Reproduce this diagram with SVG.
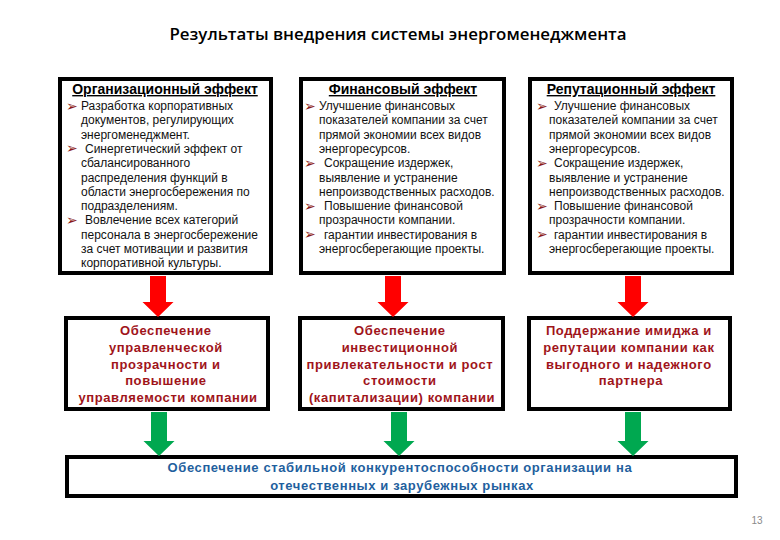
<svg xmlns="http://www.w3.org/2000/svg" width="780" height="540" viewBox="0 0 780 540">
  <style>
    .box { fill: #ffffff; stroke: #000000; stroke-width: 4; }
    .title { font-family: "Open Sans", "Liberation Sans", sans-serif; font-weight: 600; font-size: 16px; fill: #000; }
    .head { font-family: "Liberation Sans", Arial, sans-serif; font-weight: bold; font-size: 14px; fill: #000; text-decoration: underline; }
    .body { font-family: "Liberation Sans", Arial, sans-serif; font-size: 12px; fill: #111; }
    .bul { font-family: "DejaVu Sans", sans-serif; font-size: 14px; fill: #8b1a1a; }
    .mid { font-family: "Liberation Sans", Arial, sans-serif; font-weight: bold; font-size: 13px; letter-spacing: 0.6px; fill: #a0141a; }
    .bot { font-family: "Liberation Sans", Arial, sans-serif; font-weight: bold; font-size: 13px; letter-spacing: 0.6px; fill: #1f5f9e; }
    .red { fill: #ff0000; }
    .green { fill: #00a850; }
    .pg { font-family: "Liberation Sans", Arial, sans-serif; font-size: 10px; fill: #8a8a8a; }
  </style>
  <rect x="0" y="0" width="780" height="540" fill="#ffffff"/>
  <text class="title" x="398" y="40" text-anchor="middle" textLength="457" lengthAdjust="spacingAndGlyphs">Результаты внедрения системы энергоменеджмента</text>

  <g id="org-effect">
    <rect class="box" x="60" y="79" width="211" height="194"/>
    <text class="head" x="165" y="94" text-anchor="middle">Организационный эффект</text>
    <text class="bul" x="66" y="110.5">➢</text>
    <text class="body" x="81" y="110">Разработка корпоративных</text>
    <text class="body" x="81" y="124.3">документов, регулирующих</text>
    <text class="body" x="81" y="138.6">энергоменеджмент.</text>
    <text class="bul" x="66" y="153.4">➢</text>
    <text class="body" x="85" y="152.9">Синергетический эффект от</text>
    <text class="body" x="81" y="167.2">сбалансированного</text>
    <text class="body" x="81" y="181.5">распределения функций в</text>
    <text class="body" x="81" y="195.8">области энергосбережения по</text>
    <text class="body" x="81" y="210.1">подразделениям.</text>
    <text class="bul" x="66" y="224.9">➢</text>
    <text class="body" x="85" y="224.4">Вовлечение всех категорий</text>
    <text class="body" x="81" y="238.7">персонала в энергосбережение</text>
    <text class="body" x="81" y="253">за счет мотивации и развития</text>
    <text class="body" x="81" y="267.3">корпоративной культуры.</text>
  </g>

  <g id="fin-effect">
    <rect class="box" x="301" y="79" width="203" height="194"/>
    <text class="head" x="403" y="94" text-anchor="middle">Финансовый эффект</text>
    <text class="bul" x="304" y="110.5">➢</text>
    <text class="body" x="319" y="110">Улучшение финансовых</text>
    <text class="body" x="319" y="124.3">показателей компании за счет</text>
    <text class="body" x="319" y="138.6">прямой экономии всех видов</text>
    <text class="body" x="319" y="152.9">энергоресурсов.</text>
    <text class="bul" x="304" y="167.7">➢</text>
    <text class="body" x="324" y="167.2">Сокращение издержек,</text>
    <text class="body" x="319" y="181.5">выявление и устранение</text>
    <text class="body" x="319" y="195.8">непроизводственных расходов.</text>
    <text class="bul" x="304" y="210.6">➢</text>
    <text class="body" x="324" y="210.1">Повышение финансовой</text>
    <text class="body" x="319" y="224.4">прозрачности компании.</text>
    <text class="bul" x="304" y="239.2">➢</text>
    <text class="body" x="324" y="238.7">гарантии инвестирования в</text>
    <text class="body" x="319" y="253">энергосберегающие проекты.</text>
  </g>

  <g id="rep-effect">
    <rect class="box" x="530" y="79" width="202" height="194"/>
    <text class="head" x="631" y="94" text-anchor="middle">Репутационный эффект</text>
    <text class="bul" x="536" y="110.5">➢</text>
    <text class="body" x="554" y="110">Улучшение финансовых</text>
    <text class="body" x="549" y="124.3">показателей компании за счет</text>
    <text class="body" x="549" y="138.6">прямой экономии всех видов</text>
    <text class="body" x="549" y="152.9">энергоресурсов.</text>
    <text class="bul" x="536" y="167.7">➢</text>
    <text class="body" x="554" y="167.2">Сокращение издержек,</text>
    <text class="body" x="549" y="181.5">выявление и устранение</text>
    <text class="body" x="549" y="195.8">непроизводственных расходов.</text>
    <text class="bul" x="536" y="210.6">➢</text>
    <text class="body" x="554" y="210.1">Повышение финансовой</text>
    <text class="body" x="549" y="224.4">прозрачности компании.</text>
    <text class="bul" x="536" y="239.2">➢</text>
    <text class="body" x="554" y="238.7">гарантии инвестирования в</text>
    <text class="body" x="549" y="253">энергосберегающие проекты.</text>
  </g>

  <g id="mgmt-transparency">
    <rect class="box" x="66" y="318" width="202" height="91"/>
    <text class="mid" x="168" text-anchor="middle">
      <tspan x="168" y="335">Обеспечение</tspan>
      <tspan x="168" y="351.8">управленческой</tspan>
      <tspan x="168" y="368.6">прозрачности и</tspan>
      <tspan x="168" y="385.4">повышение</tspan>
      <tspan x="168" y="402.2">управляемости компании</tspan>
    </text>
  </g>

  <g id="invest-attract">
    <rect class="box" x="300" y="318" width="203" height="91"/>
    <text class="mid" x="402" text-anchor="middle">
      <tspan x="402" y="335">Обеспечение</tspan>
      <tspan x="402" y="351.8">инвестиционной</tspan>
      <tspan x="402" y="368.6">привлекательности и рост</tspan>
      <tspan x="402" y="385.4">стоимости</tspan>
      <tspan x="402" y="402.2">(капитализации) компании</tspan>
    </text>
  </g>

  <g id="image-support">
    <rect class="box" x="529" y="318" width="201" height="91"/>
    <text class="mid" x="631" text-anchor="middle">
      <tspan x="631" y="335">Поддержание имиджа и</tspan>
      <tspan x="631" y="351.8">репутации компании как</tspan>
      <tspan x="631" y="368.6">выгодного и надежного</tspan>
      <tspan x="631" y="385.4">партнера</tspan>
    </text>
  </g>

  <g id="competitiveness">
    <rect class="box" x="67" y="457" width="669" height="39"/>
    <text class="bot" x="402" text-anchor="middle">
      <tspan x="402" y="472">Обеспечение стабильной конкурентоспособности организации на</tspan>
      <tspan x="402" y="489.5">отечественных и зарубежных рынках</tspan>
    </text>
  </g>

  <g id="connectors">
    <polygon class="red" points="150,276 166,276 166,302 173.5,302 158,317 142.5,302 150,302"/>
    <polygon class="red" points="385,276 401,276 401,302 408.5,302 393,317 377.5,302 385,302"/>
    <polygon class="red" points="625,276 641,276 641,302 648.5,302 633,317 617.5,302 625,302"/>
    <polygon class="green" points="151,412 167,412 167,441 174.5,441 159,456 143.5,441 151,441"/>
    <polygon class="green" points="391,412 407,412 407,441 414.5,441 399,456 383.5,441 391,441"/>
    <polygon class="green" points="625,412 641,412 641,441 648.5,441 633,456 617.5,441 625,441"/>
  </g>

  <text class="pg" x="757" y="524" text-anchor="middle">13</text>
</svg>
